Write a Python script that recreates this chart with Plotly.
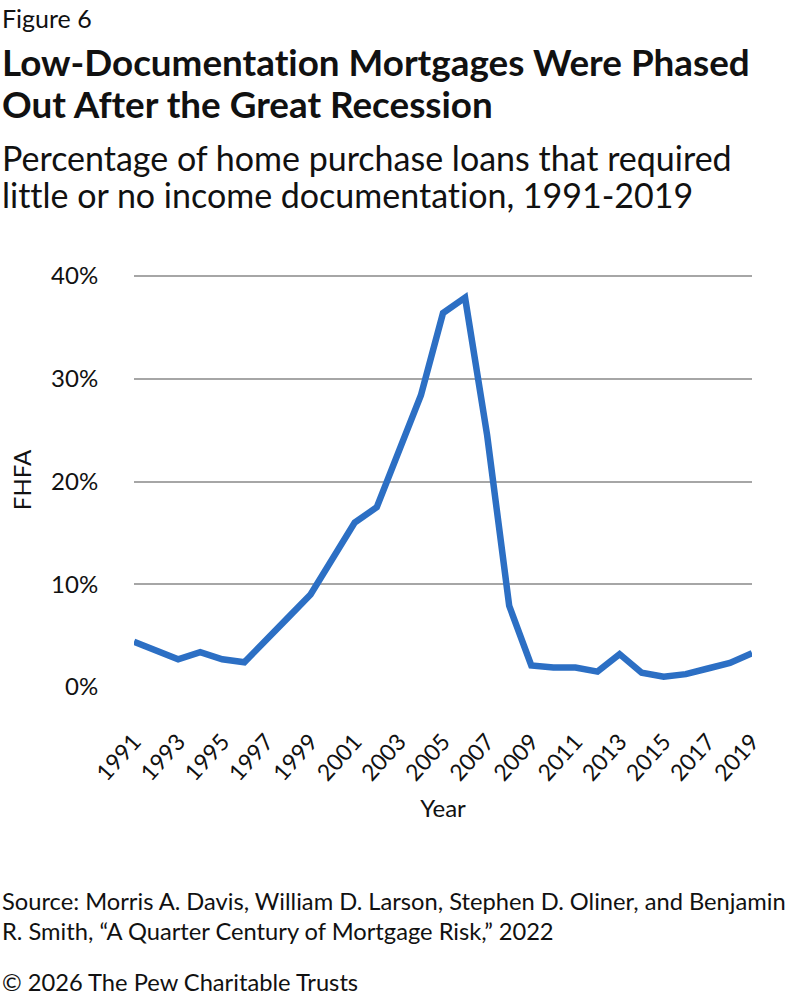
import plotly.graph_objects as go

years = list(range(1991, 2020))
fhfa = [4.4, 3.6, 2.7, 3.4, 2.7, 2.4, 4.5, 6.8, 9.0, 12.6, 16.0, 17.5, 23.1, 28.4,
        36.4, 37.9, 24.5, 7.9, 2.1, 1.9, 1.9, 1.5, 3.2, 1.4, 1.0, 1.25, 1.8, 2.35, 3.3]
tick_years = list(range(1991, 2020, 2))
y_ticks = [0, 10, 20, 30, 40]

W, H = 792, 996
L, R, T, B = 134, 40, 273, 309
PW, PH = W - L - R, H - T - B
FONT = "Lato, 'Open Sans', sans-serif"

def px(x):
    return (x - L) / PW

def py(y):
    return (H - B - y) / PH

fig = go.Figure()
fig.add_trace(go.Scatter(
    x=[str(y) for y in years], y=fhfa, mode="lines",
    line=dict(color="#2C6FC4", width=6.5), hoverinfo="skip", showlegend=False,
))

fig.update_layout(
    width=W, height=H,
    margin=dict(l=L, r=R, t=T, b=B),
    paper_bgcolor="white", plot_bgcolor="white",
    font=dict(family=FONT, color="#111111"),
    xaxis=dict(
        type="category",
        tickmode="array", tickvals=[str(y) for y in tick_years], ticktext=[str(y) for y in tick_years],
        tickangle=-48, tickfont=dict(size=23, family=FONT, color="#111111"),
        showgrid=False, zeroline=False, showline=False, ticks="outside", ticklen=31,
        tickcolor="rgba(0,0,0,0)",
        title=dict(text="Year", font=dict(size=24, family=FONT, color="#111111"), standoff=15),
    ),
    yaxis=dict(
        range=[0, 40.3], tickvals=y_ticks, ticktext=[f"{v}%" for v in y_ticks],
        tickfont=dict(size=24, family=FONT, color="#111111"),
        showgrid=True, gridcolor="#A6A6A6", gridwidth=2,
        zeroline=False, showline=False, ticks="outside", ticklen=30, tickcolor="rgba(0,0,0,0)",
        title=dict(text="FHFA", font=dict(size=24, family=FONT, color="#111111"), standoff=12),
    ),
)

def ann(text, xpix, ypix, size, bold=False):
    fig.add_annotation(
        text=f"<b>{text}</b>" if bold else text,
        xref="paper", yref="paper", x=px(xpix), y=py(ypix),
        xanchor="left", yanchor="middle", showarrow=False,
        font=dict(size=size, family=FONT, color="#111111"), align="left",
    )

ann("Figure 6", 0, 18, 25)
ann("Low-Documentation Mortgages Were Phased", 0, 62, 36.8, bold=True)
ann("Out After the Great Recession", 0, 104, 36.8, bold=True)
ann("Percentage of home purchase loans that required", 0, 157, 34)
ann("little or no income documentation, 1991-2019", 0, 194, 34)
ann("Source: Morris A. Davis, William D. Larson, Stephen D. Oliner, and Benjamin", 0, 901, 23.7)
ann("R. Smith, \u201cA Quarter Century of Mortgage Risk,\u201d 2022", 0, 931, 23.7)
ann("\u00a9 2026 The Pew Charitable Trusts", 0, 982, 23.7)

post = (
    "document.body.style.margin='0';document.body.style.padding='0';"
    "var s=document.createElement('style');"
    "s.textContent='text,tspan{font-variant-ligatures:none !important;font-feature-settings:\"liga\" 0,\"clig\" 0 !important;}';"
    "document.head.appendChild(s);"
)
fig.write_html("out.html", config={"displayModeBar": False}, post_script=post)
